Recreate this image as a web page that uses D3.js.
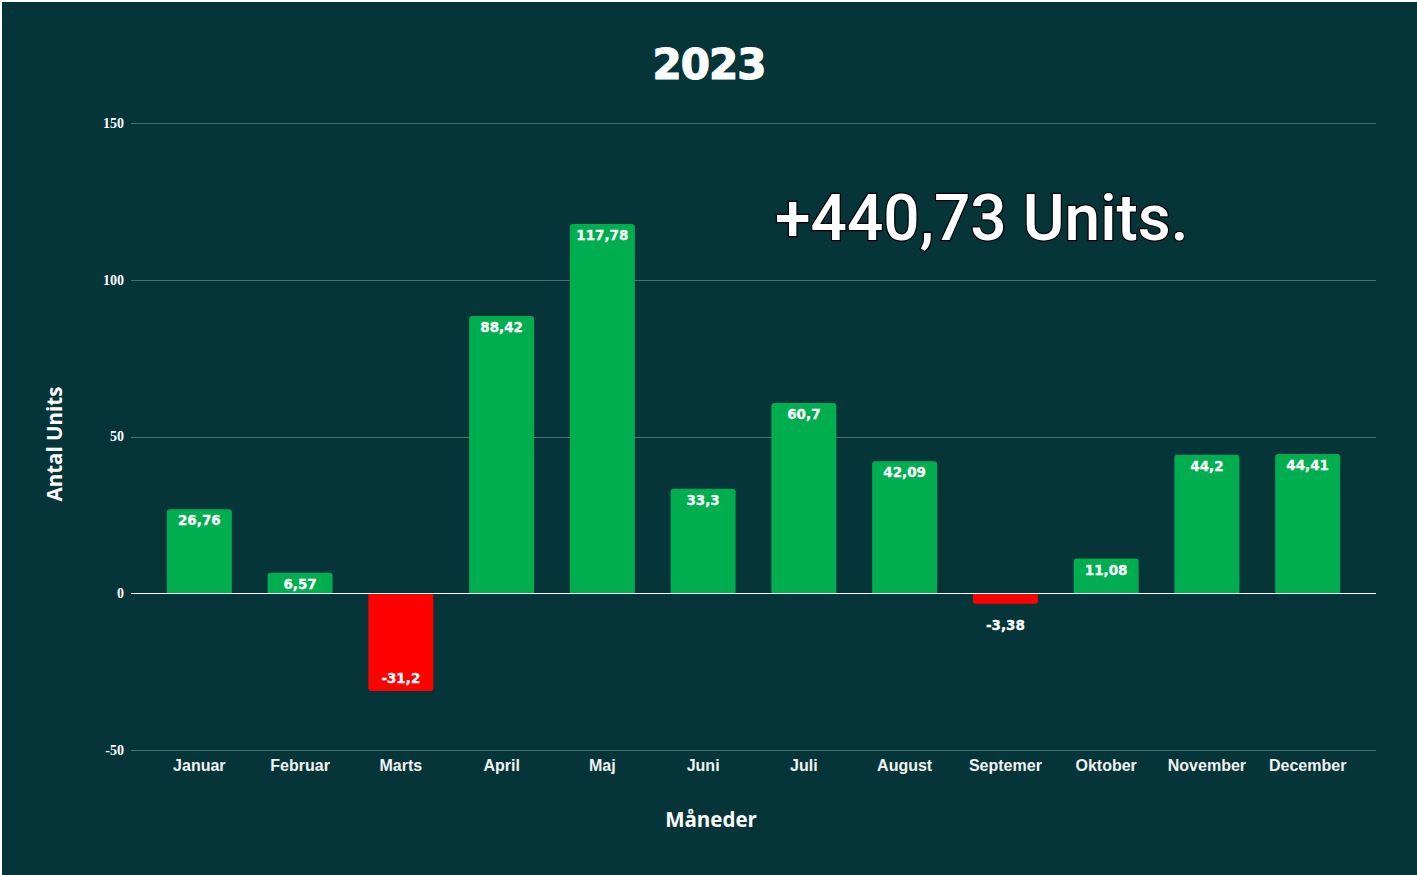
<!DOCTYPE html>
<html><head><meta charset="utf-8">
<script src="https://cdn.jsdelivr.net/npm/d3@7"></script>
<style>
html,body{margin:0;padding:0;background:#ffffff;overflow:hidden;}
svg{display:block;}
</style></head>
<body>
<svg id="chart" width="1417" height="875"></svg>
<script>
const months = ["Januar","Februar","Marts","April","Maj","Juni","Juli","August","Septemer","Oktober","November","December"];
const values = [26.76, 6.57, -31.2, 88.42, 117.78, 33.3, 60.7, 42.09, -3.38, 11.08, 44.2, 44.41];
const yTicks = [-50, 0, 50, 100, 150];
const titleText = "2023";
const totalText = "+440,73 Units.";
const yTitle = "Antal Units";
const xTitle = "Måneder";

const W = 1417, H = 875;
const svg = d3.select("#chart");
svg.append("rect").attr("x", 2).attr("y", 2).attr("width", W - 2).attr("height", H - 2).attr("fill", "#053538");

const plotL = 131, plotR = 1376;
const y = d3.scaleLinear().domain([-50, 150]).range([750, 123]);
const x = d3.scaleBand().domain(months).range([149, 1358]).paddingInner(0.355).paddingOuter(0.177);

const fmt = v => String(v).replace(".", ",");

// grid
const grid = svg.append("g");
grid.selectAll("line").data(yTicks).join("line")
  .attr("x1", plotL).attr("x2", plotR)
  .attr("y1", d => Math.round(y(d)) + 0.5).attr("y2", d => Math.round(y(d)) + 0.5)
  .attr("stroke", d => d === 0 ? "#ffffff" : "#4a706d")
  .attr("stroke-width", 1);

// y axis labels
const yAxis = d3.axisLeft(y).tickValues(yTicks).tickFormat(d => String(d)).tickSize(0).tickPadding(0);
const gy = svg.append("g").attr("transform", `translate(124,0)`).call(yAxis);
gy.select(".domain").remove();
gy.selectAll("text").attr("fill", "#ffffff")
  .style("font-family", "'Liberation Serif', 'DejaVu Serif', serif")
  .style("font-weight", "bold").style("font-size", "14px");

// bars with rounded outer end
function barPath(d) {
  const x0 = x(d.m), w = x.bandwidth();
  const y0 = y(0), y1 = y(d.v);
  const r = Math.min(3, Math.abs(y1 - y0) / 2);
  if (d.v >= 0) {
    return `M${x0},${y0}V${y1 + r}Q${x0},${y1} ${x0 + r},${y1}H${x0 + w - r}Q${x0 + w},${y1} ${x0 + w},${y1 + r}V${y0}Z`;
  } else {
    return `M${x0},${y0}V${y1 - r}Q${x0},${y1} ${x0 + r},${y1}H${x0 + w - r}Q${x0 + w},${y1} ${x0 + w},${y1 - r}V${y0}Z`;
  }
}
const data = months.map((m, i) => ({m, v: values[i]}));
svg.append("g").selectAll("path").data(data).join("path")
  .attr("d", barPath)
  .attr("fill", d => d.v >= 0 ? "#00ae4f" : "#ff0000");

// zero line on top
svg.append("line").attr("x1", plotL).attr("x2", plotR)
  .attr("y1", Math.round(y(0)) + 0.5).attr("y2", Math.round(y(0)) + 0.5)
  .attr("stroke", "#ffffff").attr("stroke-width", 1);

// value labels
svg.append("g").selectAll("text").data(data).join("text")
  .attr("x", d => x(d.m) + x.bandwidth() / 2)
  .attr("y", d => {
    const h = Math.abs(y(d.v) - y(0));
    if (d.v >= 0) return y(d.v) + 16;
    return h >= 18 ? y(d.v) - 8 : y(d.v) + 26;
  })
  .attr("text-anchor", "middle")
  .attr("fill", "#ffffff").attr("stroke", "#ffffff").attr("stroke-width", 0.3)
  .style("font-family", "'DejaVu Sans', 'Liberation Sans', sans-serif")
  .style("font-weight", "bold").style("font-size", "13.5px")
  .text(d => fmt(d.v));

// x labels
const xAxis = d3.axisBottom(x).tickSize(0).tickPadding(0);
const gx = svg.append("g").attr("transform", `translate(0,760)`).call(xAxis);
gx.select(".domain").remove();
gx.selectAll("text").attr("fill", "#f2f2f2")
  .style("font-family", "'Liberation Sans', Arial, sans-serif")
  .style("font-weight", "bold").style("font-size", "16px");

// titles
svg.append("text").attr("x", 709).attr("y", 79).attr("text-anchor", "middle")
  .attr("fill", "#ffffff").attr("stroke", "#ffffff").attr("stroke-width", 1.2)
  .style("font-family", "'DejaVu Sans', 'Liberation Sans', sans-serif")
  .style("font-weight", "bold").style("font-size", "42px").style("letter-spacing", "-1px")
  .text(titleText);

svg.append("text").attr("x", 711).attr("y", 827).attr("text-anchor", "middle")
  .attr("fill", "#ffffff")
  .style("font-family", "'Open Sans', 'Noto Sans', sans-serif")
  .style("font-weight", "bold").style("font-size", "20.5px")
  .text(xTitle);

svg.append("text").attr("transform", "translate(62,444) rotate(-90)").attr("text-anchor", "middle")
  .attr("fill", "#ffffff")
  .style("font-family", "'Open Sans', 'Noto Sans', sans-serif")
  .style("font-weight", "bold").style("font-size", "20.5px")
  .text(yTitle);

// total annotation
svg.append("text").attr("x", 775).attr("y", 240)
  .attr("fill", "#ffffff").attr("stroke", "#000000").attr("stroke-width", 2.5)
  .attr("paint-order", "stroke")
  .style("font-family", "Roboto, 'Open Sans', sans-serif")
  .style("font-weight", "500").style("font-size", "64px")
  .text(totalText);
</script>
</body></html>
